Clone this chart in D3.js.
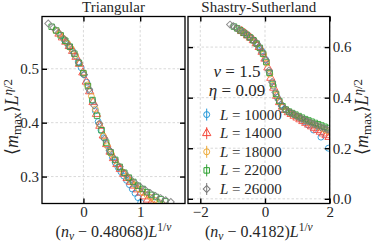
<!DOCTYPE html>
<html>
<head>
<meta charset="utf-8">
<script src="https://cdn.jsdelivr.net/npm/d3@7"></script>
<style>
body { margin: 0; background: #fff; }
text { font-family: "Liberation Serif", "DejaVu Serif", serif; fill: #262626; }
</style>
</head>
<body>
<div id="chart"></div>
<script>
// system sizes and styles of each series
var sizes = [10000, 14000, 18000, 22000, 26000];
var colors = ["#1f96d8", "#f4473a", "#eeaa38", "#2ba02f", "#7b7b7b"];

// Triangular: scaled x and <m_max> L^(eta/2), one list per L
var triX = [
  [-0.34,-0.29,-0.24,-0.19,-0.14,-0.09,-0.04,0.01,0.06,0.11,0.16,0.21,0.26,0.31,0.36,0.41,0.46,0.51,0.56,0.61,0.66,0.71,0.76,0.81,0.86,0.91,0.96,1.01,1.06],
  [-0.43,-0.37,-0.31,-0.25,-0.19,-0.13,-0.07,-0.01,0.05,0.11,0.17,0.23,0.29,0.35,0.41,0.47,0.53,0.59,0.65,0.71,0.77,0.83,0.89,0.95,1.01,1.07,1.13,1.19,1.25],
  [-0.49,-0.42,-0.35,-0.28,-0.21,-0.14,-0.07,0.0,0.07,0.14,0.21,0.28,0.35,0.42,0.49,0.56,0.63,0.7,0.77,0.84,0.91,0.98,1.05,1.12,1.19,1.26,1.33,1.4],
  [-0.56,-0.48,-0.4,-0.32,-0.24,-0.16,-0.08,0.0,0.08,0.16,0.24,0.32,0.4,0.48,0.56,0.64,0.72,0.8,0.88,0.96,1.04,1.12,1.2,1.28,1.36,1.44],
  [-0.62,-0.53,-0.44,-0.35,-0.26,-0.17,-0.08,0.01,0.1,0.19,0.28,0.37,0.46,0.55,0.64,0.73,0.82,0.91,1.0,1.09,1.18,1.27,1.36,1.45,1.54]
];
var triY = [
  [0.554,0.548,0.541,0.533,0.524,0.513,0.502,0.489,0.475,0.459,0.441,0.422,0.402,0.386,0.372,0.359,0.347,0.336,0.326,0.317,0.309,0.301,0.293,0.285,0.277,0.269,0.261,0.252,0.243],
  [0.565,0.558,0.550,0.542,0.533,0.522,0.509,0.493,0.476,0.458,0.438,0.416,0.394,0.376,0.360,0.346,0.334,0.323,0.314,0.305,0.297,0.290,0.283,0.276,0.270,0.263,0.257,0.251,0.245],
  [0.571,0.564,0.556,0.547,0.537,0.525,0.510,0.492,0.470,0.449,0.425,0.397,0.375,0.357,0.342,0.330,0.318,0.308,0.299,0.291,0.284,0.277,0.271,0.266,0.261,0.256,0.252,0.248],
  [0.578,0.571,0.562,0.552,0.541,0.528,0.511,0.492,0.468,0.442,0.413,0.386,0.363,0.345,0.331,0.318,0.307,0.298,0.290,0.283,0.277,0.271,0.266,0.262,0.258,0.254],
  [0.584,0.576,0.567,0.556,0.543,0.529,0.511,0.489,0.462,0.432,0.398,0.370,0.349,0.332,0.318,0.306,0.296,0.288,0.281,0.275,0.269,0.264,0.260,0.256,0.253]
];

// Shastry-Sutherland
var ssX = [
  [-0.58,-0.46,-0.34,-0.22,-0.1,0.02,0.14,0.26,0.38,0.5,0.62,0.74,0.86,0.98,1.1,1.22,1.34,1.5,1.73,1.96],
  [-0.72,-0.63,-0.54,-0.45,-0.36,-0.27,-0.18,-0.09,0.0,0.09,0.18,0.27,0.36,0.45,0.54,0.63,0.72,0.81,0.9,0.99,1.08,1.17,1.26,1.35,1.44,1.53,1.62,1.71,1.8,1.89,1.98],
  [-0.85,-0.75,-0.65,-0.55,-0.45,-0.35,-0.25,-0.15,-0.05,0.05,0.15,0.25,0.35,0.45,0.55,0.65,0.75,0.85,0.95,1.05,1.15,1.25,1.35,1.45,1.55,1.65,1.75,1.85,1.95],
  [-0.96,-0.86,-0.76,-0.66,-0.56,-0.46,-0.36,-0.26,-0.16,-0.06,0.04,0.14,0.24,0.34,0.44,0.54,0.64,0.74,0.84,0.94,1.04,1.14,1.24,1.34,1.44,1.54,1.64,1.74,1.84,1.94],
  [-1.08,-0.98,-0.88,-0.78,-0.68,-0.58,-0.48,-0.38,-0.28,-0.18,-0.08,0.02,0.12,0.22,0.32,0.42,0.52,0.62,0.72,0.82,0.92,1.02,1.12,1.22,1.32,1.42,1.52,1.62,1.72,1.82,1.92,2.02]
];
var ssY = [
  [0.650,0.639,0.626,0.608,0.585,0.551,0.500,0.446,0.401,0.372,0.355,0.344,0.335,0.326,0.316,0.305,0.292,0.272,0.244,0.200],
  [0.663,0.655,0.646,0.637,0.627,0.615,0.600,0.581,0.554,0.519,0.478,0.439,0.407,0.382,0.364,0.351,0.342,0.335,0.328,0.321,0.314,0.307,0.300,0.293,0.286,0.279,0.272,0.265,0.258,0.251,0.244],
  [0.673,0.665,0.656,0.647,0.637,0.626,0.612,0.594,0.571,0.537,0.493,0.449,0.411,0.384,0.364,0.351,0.343,0.336,0.329,0.323,0.316,0.310,0.304,0.298,0.292,0.286,0.280,0.274,0.268],
  [0.681,0.674,0.666,0.657,0.648,0.638,0.627,0.614,0.597,0.574,0.541,0.498,0.454,0.415,0.387,0.366,0.353,0.345,0.339,0.333,0.327,0.321,0.315,0.310,0.305,0.300,0.295,0.290,0.285,0.280],
  [0.689,0.683,0.675,0.667,0.659,0.650,0.640,0.629,0.617,0.600,0.579,0.548,0.507,0.462,0.421,0.391,0.367,0.354,0.345,0.339,0.332,0.325,0.319,0.312,0.306,0.300,0.295,0.289,0.284,0.279,0.274,0.268]
];

var triXTicks = [0, 1], triYTicks = [0.3, 0.4, 0.5];
var ssXTicks = [-2, 0, 2], ssYTicks = [0, 0.2, 0.4, 0.6];

var W = 373, H = 242;
var plotTop = 16.5, plotBottom = 203.5;

// marker shapes per series: circle, triangle, circle, square, diamond
function marker(i) {
  var sym = [d3.symbolCircle, d3.symbolTriangle, d3.symbolCircle, d3.symbolSquare, d3.symbolSquare][i];
  var size = [28, 30, 28, 30, 24][i];
  return d3.symbol(sym, size)();
}
var markerRot = [0, 0, 0, 0, 45];

var svg = d3.select("#chart").append("svg")
  .attr("width", W)
  .attr("height", H);

var panels = [
  {title: "Triangular", x0: 42, x1: 185, xd: [-0.73, 1.79], yd: [0.25, 0.597],
   xt: triXTicks, yt: triYTicks, xs: triX, ys: triY, nc: "0.48068", side: "left"},
  {title: "Shastry-Sutherland", x0: 188, x1: 329.7, xd: [-2.38, 2], yd: [-0.0186, 0.721],
   xt: ssXTicks, yt: ssYTicks, xs: ssX, ys: ssY, nc: "0.4182", side: "right"}
];

panels.forEach(function(p, pi) {
  var w = p.x1 - p.x0, h = plotBottom - plotTop;
  var x = d3.scaleLinear().domain(p.xd).range([0, w]);
  var y = d3.scaleLinear().domain(p.yd).range([h, 0]);
  var g = svg.append("g").attr("transform", "translate(" + p.x0 + "," + plotTop + ")");

  // grid
  g.selectAll(".gx").data(p.xt).enter().append("line")
    .attr("x1", d => x(d)).attr("x2", d => x(d)).attr("y1", 0).attr("y2", h)
    .attr("stroke", "#cfcfcf").attr("stroke-width", 0.8).attr("stroke-dasharray", "2.5,2");
  g.selectAll(".gy").data(p.yt).enter().append("line")
    .attr("x1", 0).attr("x2", w).attr("y1", d => y(d)).attr("y2", d => y(d))
    .attr("stroke", "#cfcfcf").attr("stroke-width", 0.8).attr("stroke-dasharray", "2.5,2");

  svg.append("clipPath").attr("id", "clip" + pi)
    .append("rect").attr("width", w).attr("height", h);

  var dataG = g.append("g").attr("clip-path", "url(#clip" + pi + ")");
  sizes.forEach(function(L, s) {
    dataG.append("g").selectAll("path")
      .data(d3.zip(p.xs[s], p.ys[s]))
      .enter().append("path")
      .attr("d", marker(s))
      .attr("transform", d => "translate(" + x(d[0]) + "," + y(d[1]) + ") rotate(" + markerRot[s] + ")")
      .attr("fill", "none")
      .attr("stroke", colors[s])
      .attr("stroke-width", 1)
      .attr("opacity", 0.85);
  });

  // axes with inward ticks on all four sides
  var ax = [
    g.append("g").attr("transform", "translate(0," + h + ")")
      .call(d3.axisBottom(x).tickValues(p.xt).tickSize(-5).tickPadding(2.5).tickFormat(d3.format("d"))),
    g.append("g")
      .call(d3.axisTop(x).tickValues(p.xt).tickSize(-5).tickFormat("")),
    g.append("g")
      .call(d3.axisLeft(y).tickValues(p.yt).tickSize(-5).tickPadding(3)
        .tickFormat(p.side == "left" ? d3.format(".1f") : "")),
    g.append("g").attr("transform", "translate(" + w + ",0)")
      .call(d3.axisRight(y).tickValues(p.yt).tickSize(-5).tickPadding(3)
        .tickFormat(p.side == "right" ? d3.format(".1f") : ""))
  ];
  ax.forEach(function(a) {
    a.attr("font-family", null).attr("font-size", 15);
    a.select(".domain").remove();
    a.selectAll(".tick line").attr("stroke", "#000").attr("stroke-width", 1.4);
    a.selectAll(".tick text").attr("fill", "#262626");
  });

  g.append("rect").attr("width", w).attr("height", h)
    .attr("fill", "none").attr("stroke", "#000").attr("stroke-width", 1.3);

  // title
  svg.append("text")
    .attr("x", p.x0 + w / 2).attr("y", 12)
    .attr("text-anchor", "middle").attr("font-size", 15)
    .text(p.title);

  // x label
  var t = svg.append("text")
    .attr("x", p.x0 + w / 2).attr("y", 236.5)
    .attr("text-anchor", "middle").attr("font-size", 16);
  t.append("tspan").text("(");
  t.append("tspan").attr("font-style", "italic").text("n");
  t.append("tspan").attr("font-style", "italic").attr("font-size", 11.5).attr("dy", 3).text("v");
  t.append("tspan").attr("dy", -3).text(" − " + p.nc + ")");
  t.append("tspan").attr("font-style", "italic").text("L");
  t.append("tspan").attr("font-size", 11.5).attr("dy", -6).text("1/");
  t.append("tspan").attr("font-size", 11.5).attr("font-style", "italic").text("ν");

  // y label
  var lx = p.side == "left" ? 18 : 368;
  var yl = svg.append("text")
    .attr("transform", "translate(" + lx + ",117) rotate(-90)")
    .attr("text-anchor", "middle").attr("font-size", 18);
  yl.append("tspan").text("⟨");
  yl.append("tspan").attr("font-style", "italic").text("m");
  yl.append("tspan").attr("font-size", 13).attr("dy", 3).text("max");
  yl.append("tspan").attr("dy", -3).text("⟩");
  yl.append("tspan").attr("font-style", "italic").text("L");
  yl.append("tspan").attr("font-size", 13).attr("font-style", "italic").attr("dy", -6).text("η");
  yl.append("tspan").attr("font-size", 13).text("/2");
});

// parameter text and legend in the right panel
var nu = svg.append("text").attr("x", 237).attr("y", 77).attr("text-anchor", "middle").attr("font-size", 17);
nu.append("tspan").attr("font-style", "italic").text("ν");
nu.append("tspan").text(" = 1.5");
var eta = svg.append("text").attr("x", 237).attr("y", 96).attr("text-anchor", "middle").attr("font-size", 17);
eta.append("tspan").attr("font-style", "italic").text("η");
eta.append("tspan").text(" = 0.09");

var leg = svg.append("g");
sizes.forEach(function(L, s) {
  var yc = 114.6 + s * 18.6;
  leg.append("line")
    .attr("x1", 206.7).attr("x2", 206.7).attr("y1", yc - 6).attr("y2", yc + 6)
    .attr("stroke", colors[s]).attr("stroke-width", 1);
  leg.append("path")
    .attr("d", marker(s))
    .attr("transform", "translate(206.7," + yc + ") rotate(" + markerRot[s] + ")")
    .attr("fill", "none").attr("stroke", colors[s]).attr("stroke-width", 1);
  var lt = leg.append("text").attr("x", 220).attr("y", yc + 5).attr("font-size", 15);
  lt.append("tspan").attr("font-style", "italic").text("L");
  lt.append("tspan").text(" = " + L);
});
</script>
</body>
</html>
